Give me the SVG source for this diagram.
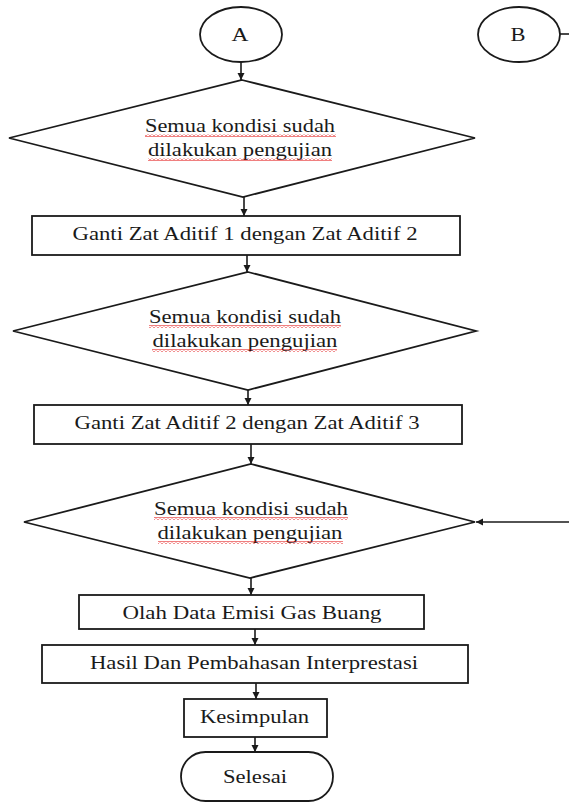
<svg xmlns="http://www.w3.org/2000/svg" width="569" height="803" viewBox="0 0 569 803">
<style>
.s{fill:#fff;stroke:#1a1a1a;stroke-width:1.8}
.t{font-family:"Liberation Serif","Times New Roman",serif;font-size:19px;fill:#1a1a1a;text-anchor:middle}
.c{stroke:#1a1a1a;stroke-width:1.6;fill:none}
.w{fill:url(#wave)}
</style>
<defs>
<marker id="ah" markerUnits="userSpaceOnUse" markerWidth="8" markerHeight="8" refX="7" refY="3.5" orient="auto">
<path d="M0,0 L7,3.5 L0,7 z" fill="#1a1a1a"/>
</marker>
<pattern id="wave" width="4" height="3" patternUnits="userSpaceOnUse">
<path d="M0,2.5 L2,0.5 L4,2.5" fill="none" stroke="#e00000" stroke-width="1"/>
</pattern>
</defs>
<g id="connectors">
<line class="c" x1="241" y1="62" x2="241" y2="80" marker-end="url(#ah)"/>
<line class="c" x1="244" y1="197" x2="244" y2="216" marker-end="url(#ah)"/>
<line class="c" x1="247" y1="255" x2="247" y2="272" marker-end="url(#ah)"/>
<line class="c" x1="248" y1="390" x2="248" y2="405" marker-end="url(#ah)"/>
<line class="c" x1="251" y1="444" x2="251" y2="464" marker-end="url(#ah)"/>
<line class="c" x1="251" y1="578" x2="251" y2="595" marker-end="url(#ah)"/>
<line class="c" x1="255" y1="629" x2="255" y2="645" marker-end="url(#ah)"/>
<line class="c" x1="256" y1="683" x2="256" y2="699" marker-end="url(#ah)"/>
<line class="c" x1="255" y1="737" x2="255" y2="752" marker-end="url(#ah)"/>
<line class="c" x1="569" y1="522" x2="476" y2="522" stroke="#555" marker-end="url(#ah)"/>
<line class="c" x1="560" y1="34" x2="569" y2="34"/>
</g>
<g id="A">
<ellipse class="s" cx="241" cy="34.5" rx="41" ry="27.5"/>
<text class="t" x="240" y="41" textLength="17" lengthAdjust="spacingAndGlyphs">A</text>
</g>
<g id="B">
<ellipse class="s" cx="519" cy="34.5" rx="41" ry="27.5"/>
<text class="t" x="518" y="41" textLength="15" lengthAdjust="spacingAndGlyphs">B</text>
</g>
<g id="d1">
<polygon class="s" points="242,80 475,138 243,197 9,138"/>
<text class="t" x="240" y="132" textLength="190" lengthAdjust="spacingAndGlyphs">Semua kondisi sudah</text>
<text class="t" x="240" y="156" textLength="184" lengthAdjust="spacingAndGlyphs">dilakukan pengujian</text>
<rect class="w" x="145" y="134" width="191" height="3"/>
<rect class="w" x="148" y="158" width="184" height="3"/>
</g>
<g id="r1">
<rect class="s" x="32" y="216" width="428" height="39"/>
<text class="t" x="245" y="240" textLength="345" lengthAdjust="spacingAndGlyphs">Ganti Zat Aditif 1 dengan Zat Aditif 2</text>
</g>
<g id="d2">
<polygon class="s" points="248,272 476,331 248,390 13,331"/>
<text class="t" x="245" y="323" textLength="192" lengthAdjust="spacingAndGlyphs">Semua kondisi sudah</text>
<text class="t" x="245" y="347" textLength="185" lengthAdjust="spacingAndGlyphs">dilakukan pengujian</text>
<rect class="w" x="149" y="325" width="192" height="3"/>
<rect class="w" x="152" y="349" width="185" height="3"/>
</g>
<g id="r2">
<rect class="s" x="34" y="405" width="428" height="39"/>
<text class="t" x="247" y="429" textLength="345" lengthAdjust="spacingAndGlyphs">Ganti Zat Aditif 2 dengan Zat Aditif 3</text>
</g>
<g id="d3">
<polygon class="s" points="251,464 475,522 250,578 24,522"/>
<text class="t" x="251" y="515" textLength="194" lengthAdjust="spacingAndGlyphs">Semua kondisi sudah</text>
<text class="t" x="250" y="539" textLength="185" lengthAdjust="spacingAndGlyphs">dilakukan pengujian</text>
<rect class="w" x="154" y="517" width="194" height="3"/>
<rect class="w" x="158" y="541" width="185" height="3"/>
</g>
<g id="r3">
<rect class="s" x="79" y="595" width="345" height="34"/>
<text class="t" x="252" y="619" textLength="259" lengthAdjust="spacingAndGlyphs">Olah Data Emisi Gas Buang</text>
</g>
<g id="r4">
<rect class="s" x="42" y="645" width="426" height="38"/>
<text class="t" x="254" y="669" textLength="328" lengthAdjust="spacingAndGlyphs">Hasil Dan Pembahasan Interprestasi</text>
</g>
<g id="r5">
<rect class="s" x="184" y="699" width="143" height="38"/>
<text class="t" x="254.5" y="723" textLength="109" lengthAdjust="spacingAndGlyphs">Kesimpulan</text>
</g>
<g id="end">
<rect class="s" x="181" y="752" width="152" height="49" rx="24.5" ry="24.5"/>
<text class="t" x="255" y="783" textLength="64" lengthAdjust="spacingAndGlyphs">Selesai</text>
</g>
</svg>
